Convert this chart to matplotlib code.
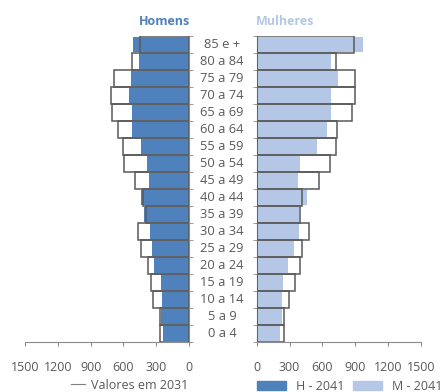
import matplotlib
matplotlib.use("Agg")
import matplotlib.pyplot as plt
from matplotlib.patches import Patch
from matplotlib.lines import Line2D
from matplotlib.transforms import blended_transform_factory
import numpy as np

plt.rcParams['font.family'] = ['Open Sans', 'DejaVu Sans']

grupos = ["0 a 4", "5 a 9", "10 a 14", "15 a 19", "20 a 24", "25 a 29", "30 a 34",
          "35 a 39", "40 a 44", "45 a 49", "50 a 54", "55 a 59", "60 a 64", "65 a 69",
          "70 a 74", "75 a 79", "80 a 84", "85 e +"]

# valores 2041 (barras)
homens_2041 = [236, 257, 250, 257, 318, 342, 358, 413, 440, 367, 388, 443, 520, 520,
               550, 535, 458, 511]
mulheres_2041 = [216, 232, 235, 244, 286, 341, 390, 390, 457, 378, 396, 555, 640, 680,
                 677, 744, 680, 976]

# valores 2031 (contornos)
homens_2031 = [266, 266, 327, 351, 373, 443, 465, 394, 419, 495, 593, 603, 654, 700,
               716, 685, 520, 450]
mulheres_2031 = [247, 253, 299, 350, 399, 417, 481, 393, 411, 570, 674, 729, 738, 875,
                 902, 902, 729, 893]

ticks = [0, 300, 600, 900, 1200, 1500]

azul = '#4f81bd'
azul_claro = '#b4c7e7'
cinza = '#595959'
eixo = '#8c8c8c'

fig = plt.figure(figsize=(4.46, 3.92), dpi=100)
ax_h = fig.add_axes([0.0561, 0.1283, 0.3677, 0.7799])
ax_m = fig.add_axes([0.5756, 0.1283, 0.3677, 0.7799])

y = np.arange(len(grupos))

ax_h.barh(y, homens_2041, height=0.9, color=azul, zorder=2)
ax_h.barh(y, homens_2031, height=1.0, facecolor='none', edgecolor=cinza, linewidth=1.1, zorder=3)
ax_m.barh(y, mulheres_2041, height=0.9, color=azul_claro, zorder=2)
ax_m.barh(y, mulheres_2031, height=1.0, facecolor='none', edgecolor=cinza, linewidth=1.1, zorder=3)

ax_h.set_xlim(1500, 0)
ax_m.set_xlim(0, 1500)

for ax, lado in [(ax_h, 'right'), (ax_m, 'left')]:
    ax.set_ylim(-0.5, len(grupos) - 0.5)
    ax.set_xticks(ticks)
    ax.set_xticklabels([str(t) for t in ticks])
    ax.tick_params(axis='x', colors=eixo, labelcolor=cinza, labelsize=9, length=3, pad=11)
    for s in ['top', 'left', 'right', 'bottom']:
        ax.spines[s].set_visible(s in ('bottom', lado))
        ax.spines[s].set_color(eixo)
    if lado == 'right':
        ax.yaxis.tick_right()
    ax.set_yticks([])
    ax.set_yticks(np.arange(-0.5, len(grupos)), minor=True)
    ax.tick_params(axis='y', which='minor', length=3, color=eixo)

trans = blended_transform_factory(fig.transFigure, ax_h.transData)
for i, g in enumerate(grupos):
    fig.text(0.498, i, g, transform=trans, ha='center', va='center', fontsize=9.3, color=cinza)

fig.text(0.369, 0.944, "Homens", ha='center', va='center', fontsize=9,
         fontweight='bold', color=azul)
fig.text(0.64, 0.944, "Mulheres", ha='center', va='center', fontsize=9,
         fontweight='bold', color=azul_claro)

fig.legend(handles=[Line2D([0], [0], color='#7f7f7f', lw=0.8)],
           labels=["Valores em 2031"], loc='center', bbox_to_anchor=(0.291, 0.017),
           frameon=False, fontsize=9, handlelength=1.05, handletextpad=0.5,
           labelcolor=cinza)
fig.legend(handles=[Patch(color=azul), Patch(color=azul_claro)],
           labels=["H - 2041", "M - 2041"], loc='center', bbox_to_anchor=(0.784, 0.014),
           frameon=False, fontsize=9, ncol=2, handlelength=2.3, handleheight=0.8,
           handletextpad=0.8, columnspacing=0.7, labelcolor=cinza)

fig.savefig("out.png", dpi=100)
